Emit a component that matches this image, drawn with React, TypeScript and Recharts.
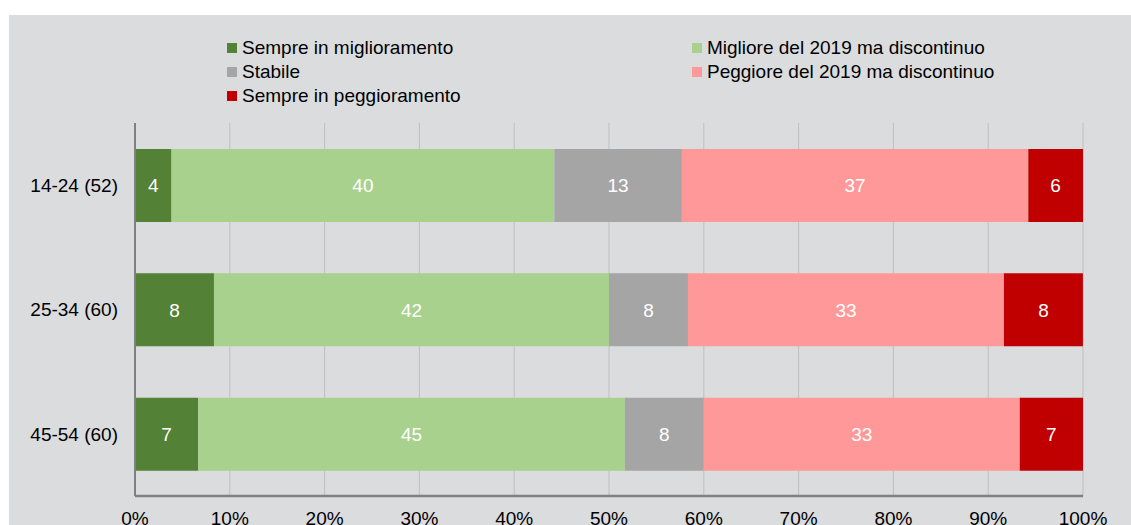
import React from 'react';
import { BarChart, Bar, XAxis, YAxis, CartesianGrid, LabelList } from 'recharts';

const categories = ['14-24 (52)', '25-34 (60)', '45-54 (60)'];
const sempreMiglioramento = [3.85, 8.33, 6.67];
const miglioreDiscontinuo = [40.38, 41.67, 45.0];
const stabile = [13.46, 8.33, 8.33];
const peggioreDiscontinuo = [36.54, 33.33, 33.33];
const semprePeggioramento = [5.77, 8.33, 6.67];
const xTicks = [0, 10, 20, 30, 40, 50, 60, 70, 80, 90, 100];

const series = [
  { key: 'sm', name: 'Sempre in miglioramento', color: '#538135', values: sempreMiglioramento },
  { key: 'md', name: 'Migliore del 2019 ma discontinuo', color: '#a9d18e', values: miglioreDiscontinuo },
  { key: 'st', name: 'Stabile', color: '#a5a5a5', values: stabile },
  { key: 'pd', name: 'Peggiore del 2019 ma discontinuo', color: '#ff9999', values: peggioreDiscontinuo },
  { key: 'sp', name: 'Sempre in peggioramento', color: '#c00000', values: semprePeggioramento },
];

const data = categories.map((c, i) => {
  const row: Record<string, any> = { cat: c };
  series.forEach((s) => (row[s.key] = s.values[i]));
  return row;
});

const FONT = '"Liberation Sans", Arial, sans-serif';

// legend placement (grid: two columns, row-major)
const legendCols = [218, 683];
const legendRows = [33, 57, 81];

export default function App() {
  return (
    <div
      style={{
        position: 'fixed',
        left: 9,
        top: 15,
        width: 1122,
        height: 510,
        background: '#dbdcde',
        fontFamily: FONT,
        overflow: 'hidden',
      }}
    >
      {series.map((s, i) => (
        <div
          key={s.key}
          style={{
            position: 'absolute',
            left: legendCols[i % 2],
            top: legendRows[Math.floor(i / 2)] - 12,
            height: 24,
            display: 'flex',
            alignItems: 'center',
            fontSize: 19,
            color: '#000',
            whiteSpace: 'nowrap',
          }}
        >
          <span style={{ width: 10, height: 10, background: s.color, marginRight: 5, display: 'inline-block' }} />
          <span>{s.name}</span>
        </div>
      ))}
      <BarChart
        width={1122}
        height={510}
        data={data}
        layout="vertical"
        stackOffset="none"
        margin={{ top: 108, right: 48, left: 0, bottom: 0 }}
        style={{ fontFamily: FONT }}
      >
        <CartesianGrid horizontal={false} stroke="#bfbfbf" strokeWidth={1} />
        <XAxis
          type="number"
          domain={[0, 100]}
          ticks={xTicks}
          allowDataOverflow
          tickFormatter={(v: number) => `${v}%`}
          tickLine={false}
          tickSize={0}
          tickMargin={16}
          height={29}
          axisLine={{ stroke: '#808080', strokeWidth: 2.5 }}
          tick={{ fontSize: 19, fill: '#000', fontFamily: FONT }}
          interval={0}
        />
        <YAxis
          type="category"
          dataKey="cat"
          width={126}
          tickLine={false}
          tickSize={0}
          tickMargin={17}
          axisLine={{ stroke: '#808080', strokeWidth: 2 }}
          tick={{ fontSize: 19, fill: '#000', fontFamily: FONT }}
        />
        {series.map((s) => (
          <Bar key={s.key} dataKey={s.key} name={s.name} stackId="a" fill={s.color} barSize={73} isAnimationActive={false}>
            <LabelList
              dataKey={s.key}
              position="center"
              fill="#ffffff"
              fontSize={19}
              fontFamily={FONT}
              formatter={(v: number) => Math.round(v)}
            />
          </Bar>
        ))}
      </BarChart>
    </div>
  );
}
